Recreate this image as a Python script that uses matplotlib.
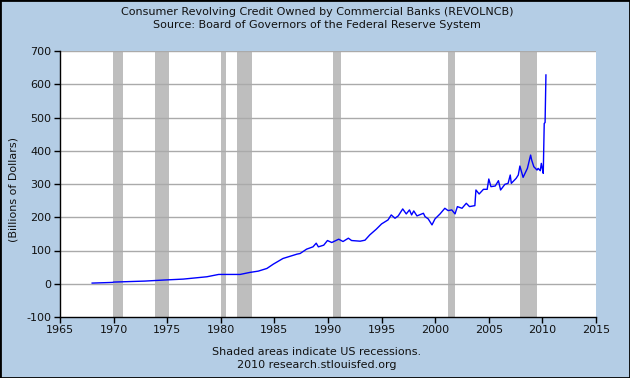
import matplotlib
matplotlib.use("Agg")
import matplotlib.pyplot as plt
from matplotlib.patches import Rectangle

plt.rcParams["axes.unicode_minus"] = False

# Data: decimal year, billions of dollars
years = [1968.0, 1969.9, 1970.0, 1972.9, 1974.6, 1976.5, 1978.7, 1979.8, 1981.8,
         1982.7, 1983.5, 1984.3, 1984.9, 1985.8, 1986.5, 1987.1, 1987.4, 1988.0,
         1988.6, 1988.9, 1989.1, 1989.6, 1989.95, 1990.35, 1991.0, 1991.4, 1991.9,
         1992.2, 1993.0, 1993.45, 1993.9, 1994.5, 1995.0, 1995.6, 1995.9, 1996.25,
         1996.55, 1996.97, 1997.3, 1997.6, 1997.8, 1998.0, 1998.3, 1998.9, 1999.05,
         1999.35, 1999.7, 1999.98, 2000.45, 2000.9, 2001.2, 2001.55, 2001.85,
         2002.07, 2002.5, 2002.9, 2003.2, 2003.7, 2003.8, 2004.1, 2004.5, 2004.85,
         2005.0, 2005.2, 2005.6, 2005.9, 2006.1, 2006.5, 2006.8, 2007.0, 2007.1,
         2007.55, 2007.75, 2007.9, 2008.2, 2008.6, 2008.9, 2009.0, 2009.2, 2009.5,
         2009.6, 2009.8, 2009.9, 2010.0, 2010.08, 2010.17, 2010.25, 2010.33]
values = [2, 4, 5, 8, 11, 14, 21, 28, 28,
          34, 38, 46, 59, 76, 83, 89, 91, 104,
          111, 122, 111, 116, 130, 124, 134, 127, 137,
          130, 128, 131, 147, 164, 180, 192, 207, 197,
          204, 225, 210, 222, 207, 219, 204, 212, 202,
          195, 177, 195, 210, 227, 220, 222, 210,
          232, 227, 242, 232, 235, 282, 270, 284, 284,
          315, 292, 294, 310, 282, 299, 302, 327, 302,
          317, 327, 354, 320, 347, 387, 372, 352, 342,
          347, 340, 362, 345, 332, 482, 485, 628]

recessions = [(1969.92, 1970.87), (1973.83, 1975.17), (1980.0, 1980.5),
              (1981.5, 1982.87), (1990.5, 1991.17), (2001.17, 2001.83),
              (2007.92, 2009.5)]

xticks = [1965, 1970, 1975, 1980, 1985, 1990, 1995, 2000, 2005, 2010, 2015]
yticks = [-100, 0, 100, 200, 300, 400, 500, 600, 700]

bg = "#B4CDE5"
fig = plt.figure(figsize=(6.3, 3.78), dpi=100, facecolor=bg)
fig.patches.append(Rectangle((0, 0), 1, 1, transform=fig.transFigure,
                             fill=False, edgecolor="black", linewidth=2, zorder=10))

W, H = 630, 378
ax = fig.add_axes([60 / W, 1 - 317 / H, (596 - 60) / W, (317 - 51) / H])
ax.set_facecolor("white")

for a, b in recessions:
    ax.axvspan(a, b, color="#BEBEBE", lw=0, zorder=1)

for yv in yticks[1:]:
    ax.axhline(yv, color="#AAAAAA", lw=1, zorder=2)

ax.plot(years, values, color="#0000FF", lw=1, zorder=3)

ax.set_xlim(1965, 2015)
ax.set_ylim(-100, 700)
ax.set_xticks(xticks)
ax.set_yticks(yticks)
ax.tick_params(direction="out", length=4, width=1, color="black",
               labelsize=8, labelcolor="#111111", pad=2)
for s in ["top", "right"]:
    ax.spines[s].set_visible(False)
for s in ["left", "bottom"]:
    ax.spines[s].set_color("black")
    ax.spines[s].set_linewidth(1)

fig.text(14 / W, 1 - 190 / H, "(Billions of Dollars)", rotation=90,
         ha="center", va="center", fontsize=8, color="#111111")

fig.text(0.503, 1 - 12 / H, "Consumer Revolving Credit Owned by Commercial Banks (REVOLNCB)",
         ha="center", va="center", fontsize=8, color="#111111")
fig.text(0.503, 1 - 25 / H, "Source: Board of Governors of the Federal Reserve System",
         ha="center", va="center", fontsize=8, color="#111111")
fig.text(0.503, 1 - 352 / H, "Shaded areas indicate US recessions.",
         ha="center", va="center", fontsize=8, color="#111111")
fig.text(0.503, 1 - 365 / H, "2010 research.stlouisfed.org",
         ha="center", va="center", fontsize=8, color="#111111")

fig.savefig("out.png", dpi=100, facecolor=bg)
